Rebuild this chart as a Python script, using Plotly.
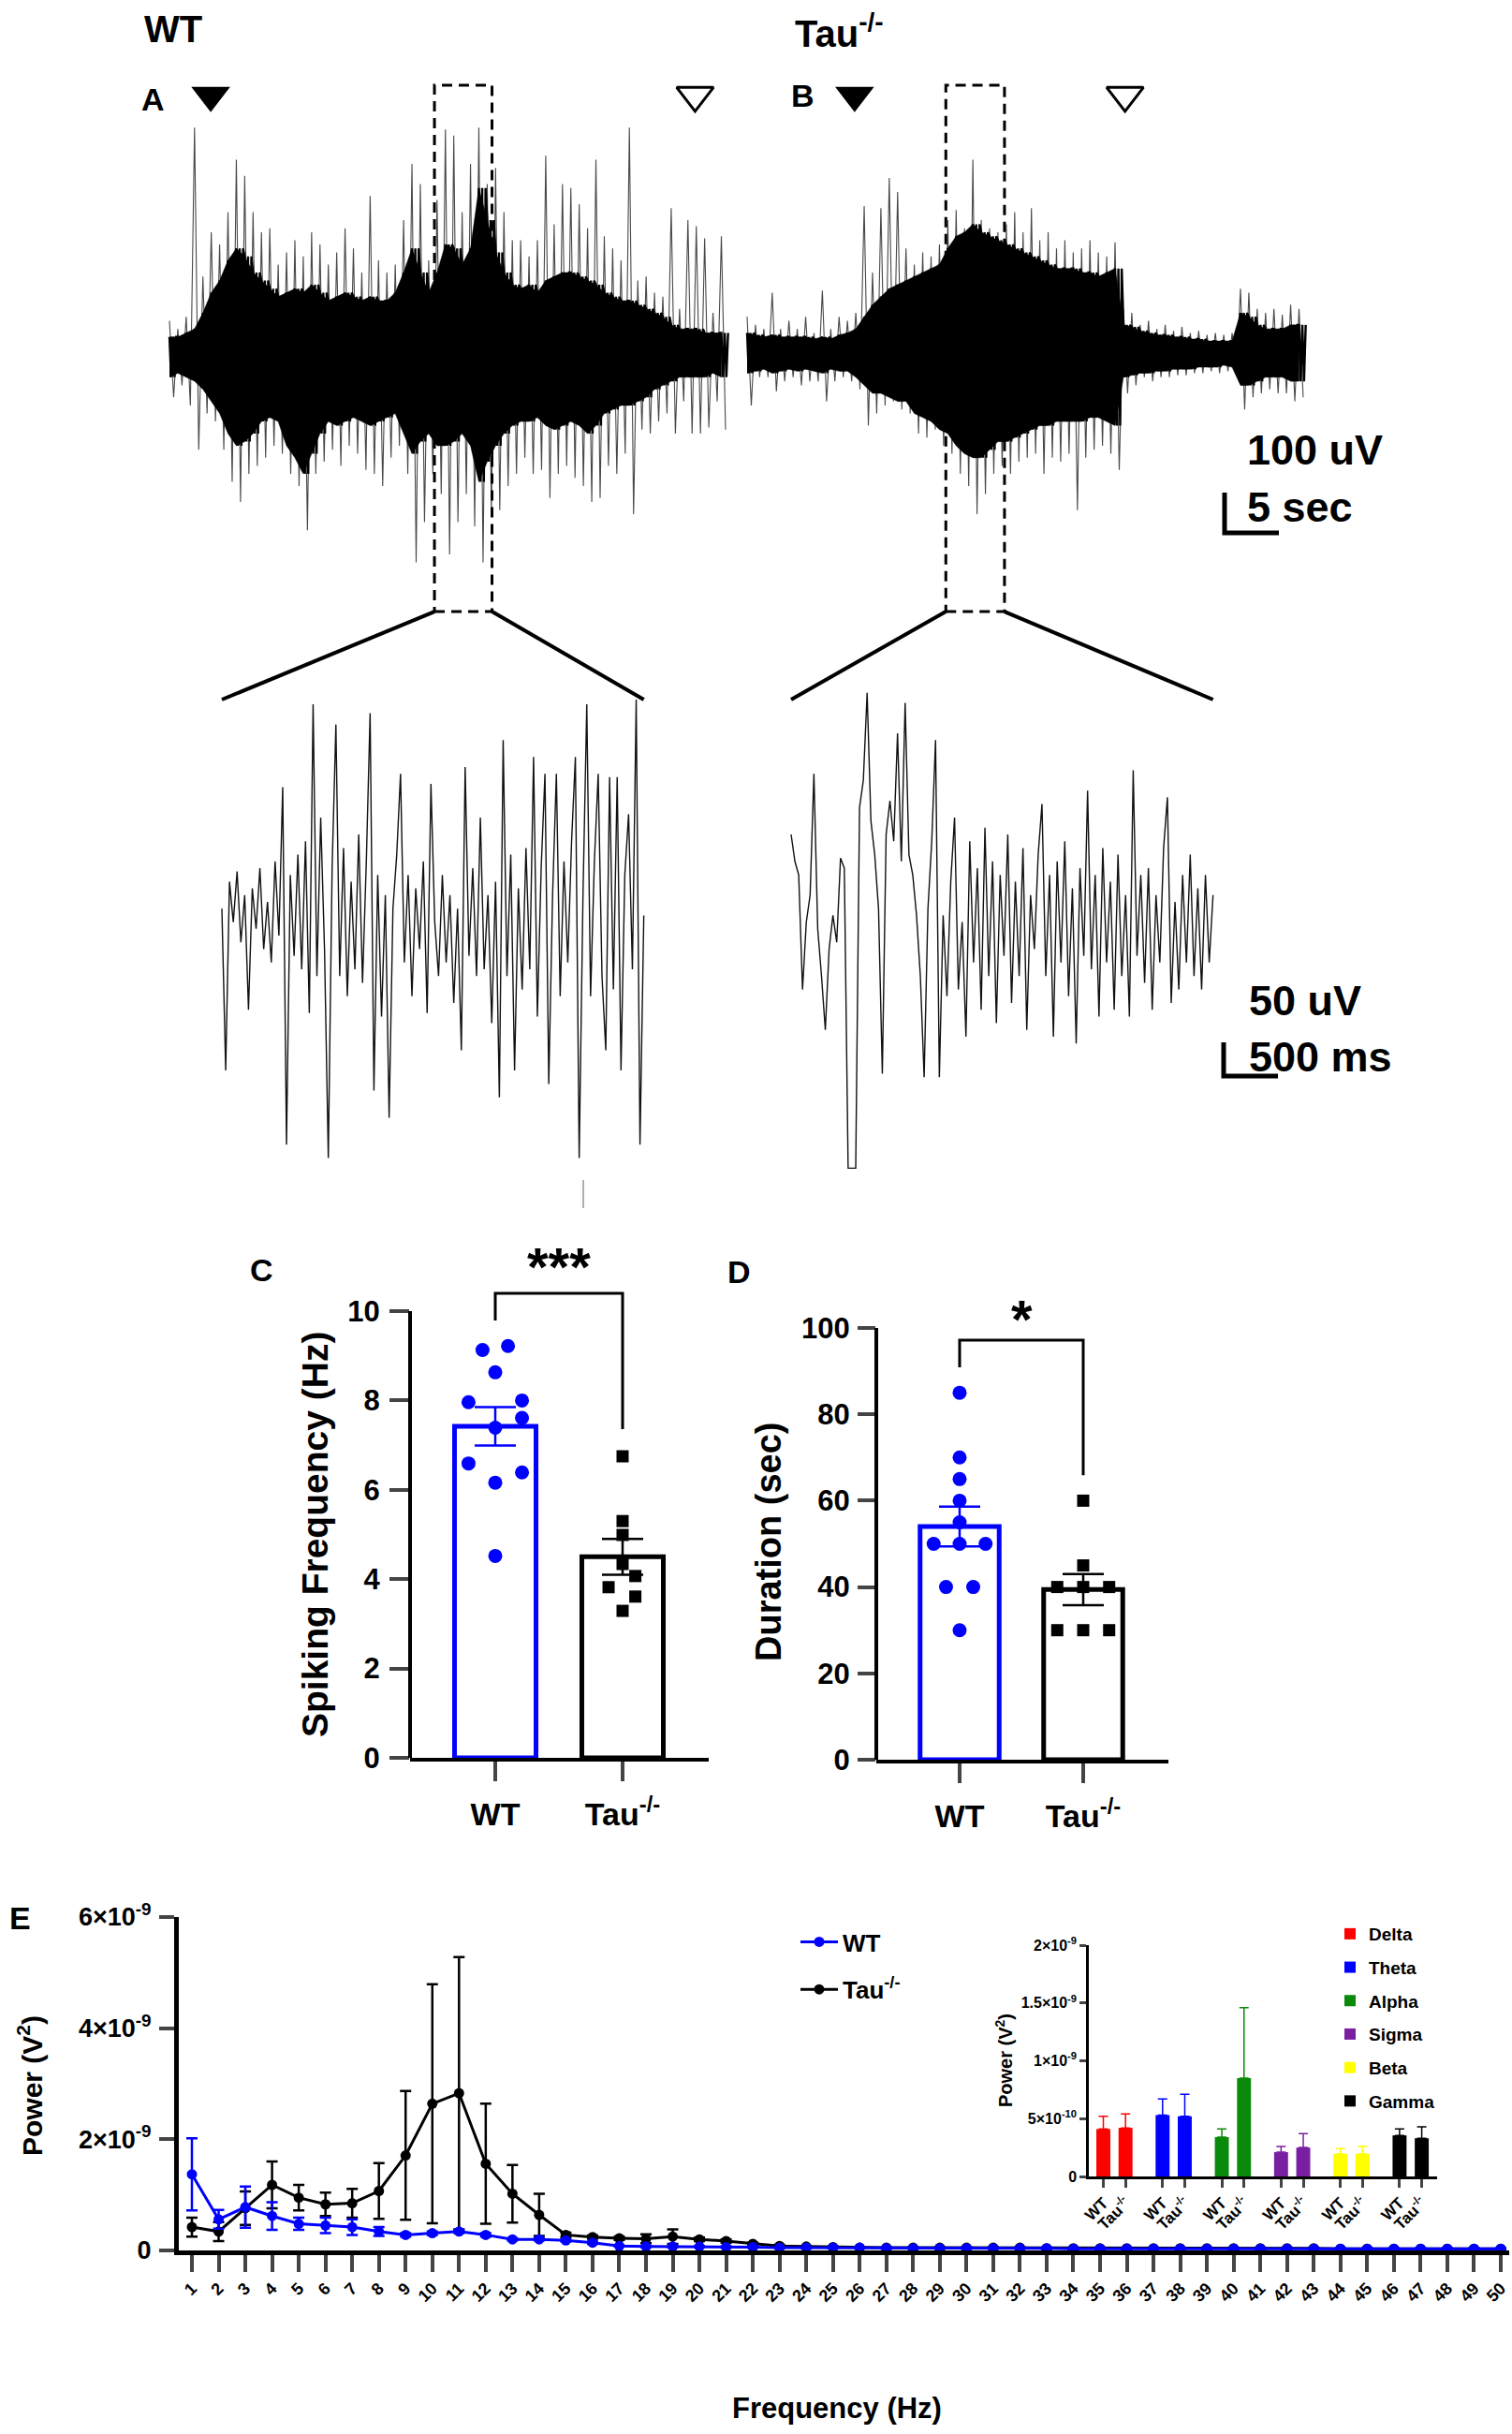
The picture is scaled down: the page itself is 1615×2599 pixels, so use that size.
import plotly.graph_objects as go

W, H = 1615, 2599
FONT = "Liberation Sans, Arial, sans-serif"
BLUE = "#0000ff"

# ---------------- data ----------------
# A / B: whole seizures (uV), one reading every 0.77 s
trace_step = 0.77
wt_spike_hi = [80, 60, 90, 560, 190, 300, 270, 350, 480, 440, 350, 300, 310, 220, 250, 280, 240,
               300, 270, 220, 250, 310, 260, 200, 390, 230, 200, 220, 330, 470, 420, 230, 380, 555,
               540, 350, 470, 560, 420, 460, 350, 280, 280, 240, 280, 490, 320, 420, 410, 370, 310,
               480, 290, 260, 230, 560, 180, 190, 150, 140, 360, 110, 330, 315, 285, 100, 290]
wt_spike_lo = [-110, -80, -130, -240, -150, -170, -240, -320, -370, -300, -280, -260, -230, -250,
               -300, -330, -440, -300, -270, -240, -280, -230, -250, -290, -300, -330, -260, -230,
               -300, -520, -420, -300, -350, -500, -420, -350, -430, -520, -400, -390, -330, -300,
               -260, -300, -290, -360, -300, -280, -310, -330, -370, -360, -280, -300, -250, -400,
               -190, -200, -170, -150, -200, -120, -200, -200, -185, -120, -190]
wt_core_hi = [40, 40, 50, 60, 100, 150, 180, 230, 260, 240, 200, 180, 160, 140, 150, 160, 150, 170,
              150, 130, 140, 150, 140, 130, 140, 130, 130, 150, 200, 260, 200, 150, 200, 270, 260,
              220, 260, 410, 330, 250, 200, 170, 160, 170, 150, 180, 190, 200, 200, 190, 180, 170,
              150, 140, 130, 130, 120, 110, 100, 90, 70, 60, 60, 60, 50, 50, 50]
wt_core_lo = [-60, -50, -60, -70, -90, -120, -150, -200, -230, -220, -200, -170, -160, -170, -230,
              -260, -300, -250, -200, -170, -180, -170, -160, -170, -180, -170, -160, -150, -200,
              -250, -220, -200, -230, -230, -220, -200, -230, -320, -270, -230, -200, -180, -170,
              -170, -160, -180, -190, -180, -170, -180, -200, -180, -150, -140, -130, -130, -120,
              -110, -90, -80, -70, -60, -60, -60, -60, -50, -60]

tau_spike_hi = [90, 70, 60, 150, 60, 80, 60, 90, 50, 155, 60, 90, 80, 100, 365, 200, 360, 435, 400,
                260, 220, 250, 240, 270, 330, 355, 310, 480, 330, 310, 300, 320, 350, 300, 360, 280,
                300, 260, 280, 250, 260, 280, 250, 240, 275, 110, 100, 70, 80, 60, 70, 55, 65, 50,
                55, 45, 50, 45, 50, 160, 150, 110, 100, 110, 95, 120, 110]
tau_spike_lo = [-130, -60, -60, -95, -70, -60, -80, -70, -70, -120, -70, -60, -70, -90, -180, -150,
                -130, -120, -140, -150, -200, -210, -190, -230, -250, -300, -330, -400, -350, -300,
                -280, -300, -270, -260, -250, -300, -260, -270, -250, -390, -260, -240, -230, -250,
                -290, -100, -80, -60, -70, -60, -60, -55, -55, -50, -50, -45, -50, -45, -50, -140,
                -110, -100, -90, -100, -100, -120, -110]
tau_core_hi = [50, 45, 40, 45, 40, 40, 40, 40, 35, 40, 35, 45, 50, 60, 90, 120, 140, 160, 170, 180,
               190, 200, 210, 220, 260, 290, 300, 320, 300, 290, 280, 270, 260, 250, 240, 230, 220,
               210, 210, 210, 200, 200, 190, 200, 210, 70, 65, 55, 50, 45, 45, 40, 40, 35, 35, 30,
               30, 30, 30, 100, 90, 70, 60, 60, 60, 70, 70]
tau_core_lo = [-50, -45, -40, -50, -45, -40, -45, -40, -45, -50, -40, -45, -45, -60, -80, -100, -100,
               -110, -120, -120, -150, -160, -170, -190, -200, -230, -250, -260, -260, -240, -220,
               -220, -210, -200, -190, -180, -180, -170, -170, -170, -170, -160, -160, -170, -180,
               -60, -55, -50, -50, -45, -45, -40, -40, -40, -35, -35, -35, -30, -35, -80, -80, -70,
               -60, -60, -60, -70, -70]

seizure_onset = [3.8, 9.9]      # s  (WT, Tau-/-)
seizure_offset = [48.4, 34.8]
zoom_window_wt = [24.4, 29.7]
zoom_window_tau = [18.3, 23.7]

# expanded segments (uV), one reading every 35 ms
zoom_step = 0.035
wt_zoom = [40, -200, 80, 20, 95, -10, 60, -110, 70, 10,
           100, -20, 50, -40, 110, 0, 220, -310, 90, -30,
           120, -50, 140, -115, 343, -60, 175, -20, -330, 100,
           313, -60, 130, -90, 80, -50, 150, -70, 110, 330,
           -230, 90, -120, 60, -270, 40, 120, 240, -40, 90,
           -90, 70, -20, 110, -115, 225, 20, -60, 90, -40,
           60, -100, 40, -170, 250, -30, 100, -60, 175, -50,
           60, -130, 80, -240, 290, -60, 120, -200, 70, -80,
           130, -50, 265, -120, 100, 240, -220, 60, 240, -90,
           110, -40, 140, 265, -330, 60, 343, -90, 110, 240,
           -60, -170, 235, -80, 235, -200, 90, 180, -50, 350,
           -310, 30]
tau_zoom = [150, 110, 90, -80, 20, 60, 240, 10, -60, -140,
            -20, 30, -10, 115, 100, -345, -345, -345, 190, 230,
            360, 170, 120, 40, -205, 150, 200, 140, 300, 110,
            345, 120, 90, 30, -60, -210, 40, 140, 290, -210,
            30, -90, 80, 175, -80, 20, -150, 140, -40, 100,
            -110, 160, -60, 110, -130, 90, -30, 150, -100, 80,
            -60, 130, -140, 60, -20, 120, 195, -60, 90, -150,
            110, -40, 140, -90, 70, -160, 100, -30, 215, -50,
            90, -120, 130, -40, 80, -110, 120, -60, 60, -120,
            245, -30, 90, -70, 100, -110, 60, -40, 130, 205,
            -100, 50, -80, 90, -40, 120, -60, 70, -80, 90,
            -40, 60]

# C / D
groups = ["WT", "Tau<sup>-/-</sup>"]
freq_wt = [9.13, 9.22, 8.63, 7.96, 8.00, 7.39, 7.61, 6.59, 6.39, 6.16, 4.52]
freq_tau = [6.75, 5.30, 4.99, 4.34, 4.07, 3.82, 3.61, 3.29]
freq_mean = [7.42, 4.50]
freq_sem = [0.43, 0.40]
dur_wt = [85, 70, 65, 60, 55, 50, 50, 50, 40, 40, 30]
dur_tau = [60, 45, 40, 40, 40, 30, 30, 30]
dur_mean = [54.0, 39.4]
dur_sem = [4.6, 3.6]
# horizontal scatter of the dots inside each bar
freq_wt_jit = [-0.10, 0.10, 0, -0.21, 0.21, 0, 0.21, -0.21, 0.21, 0, 0]
freq_tau_jit = [0, 0, 0, 0, 0.10, -0.11, 0.10, 0]
dur_wt_jit = [0, 0, 0, 0, 0, -0.21, 0, 0.21, -0.11, 0.11, 0]
dur_tau_jit = [0, 0, -0.21, 0, 0.21, -0.21, 0, 0.21]

# E: power spectrum, x1e-9 V^2
freq_hz = list(range(1, 51))
wt_power = [1.37, 0.56, 0.78, 0.62, 0.48, 0.45, 0.42, 0.34, 0.28, 0.31,
            0.34, 0.28, 0.20, 0.20, 0.18, 0.14, 0.08, 0.07, 0.07, 0.07,
            0.06, 0.06, 0.05, 0.05, 0.05, 0.05, 0.04, 0.04, 0.04, 0.04,
            0.04, 0.04, 0.04, 0.03, 0.03, 0.03, 0.03, 0.03, 0.03, 0.03,
            0.03, 0.03, 0.03, 0.03, 0.03, 0.03, 0.03, 0.03, 0.03, 0.03]
wt_sem = [0.65, 0.17, 0.37, 0.25, 0.11, 0.14, 0.14, 0.08, 0.03, 0.03,
          0.03, 0.03, 0.02, 0.02, 0.02, 0.02, 0.01, 0.01, 0.01, 0.01,
          0.01, 0.01, 0.01, 0.01, 0.01, 0.01, 0.01, 0.01, 0.01, 0.01,
          0.01, 0.01, 0.01, 0.01, 0.01, 0.01, 0.01, 0.01, 0.01, 0.01,
          0.01, 0.01, 0.01, 0.01, 0.01, 0.01, 0.01, 0.01, 0.01, 0.01]
tau_power = [0.42, 0.34, 0.76, 1.18, 0.95, 0.83, 0.85, 1.07, 1.71, 2.64,
             2.83, 1.56, 1.02, 0.64, 0.28, 0.24, 0.22, 0.21, 0.25, 0.20,
             0.17, 0.12, 0.08, 0.07, 0.06, 0.05, 0.05, 0.05, 0.05, 0.05,
             0.05, 0.05, 0.04, 0.04, 0.04, 0.04, 0.04, 0.04, 0.04, 0.04,
             0.04, 0.04, 0.04, 0.03, 0.03, 0.03, 0.03, 0.03, 0.03, 0.03]
tau_sem = [0.17, 0.17, 0.30, 0.42, 0.23, 0.21, 0.26, 0.50, 1.16, 2.15,
           2.45, 1.08, 0.52, 0.38, 0.04, 0.03, 0.03, 0.08, 0.13, 0.03,
           0.03, 0.02, 0.02, 0.01, 0.01, 0.01, 0.01, 0.01, 0.01, 0.01,
           0.01, 0.01, 0.01, 0.01, 0.01, 0.01, 0.01, 0.01, 0.01, 0.01,
           0.01, 0.01, 0.01, 0.01, 0.01, 0.01, 0.01, 0.01, 0.01, 0.01]

bands = ["Delta", "Theta", "Alpha", "Sigma", "Beta", "Gamma"]
band_wt = [0.41, 0.53, 0.34, 0.21, 0.195, 0.355]
band_wt_sem = [0.11, 0.14, 0.07, 0.05, 0.045, 0.055]
band_tau = [0.42, 0.52, 0.85, 0.25, 0.195, 0.33]
band_tau_sem = [0.12, 0.19, 0.61, 0.12, 0.065, 0.10]
band_colors = ["#ff0000", "#0000ff", "#0a8a0a", "#7a1fa2", "#ffff00", "#000000"]

# ---------------- page geometry (pixels) ----------------
TOP_T0, TOP_PX_S, TOP_MID, TOP_PX_UV = 181, 11.6, 377, 0.43   # A/B row
ZM_T0, ZM_PX_S, ZM_MID, ZM_PX_UV = 237, 116, 999, 0.72        # expanded row
TAU_TOP_SHIFT = (798 - TOP_T0) / TOP_PX_S
TAU_ZM_SHIFT = (845 - ZM_T0) / ZM_PX_S


def pxx(p):
    return p / W


def pxy(p):
    return 1 - p / H


def top_px(t, v):
    return TOP_T0 + t * TOP_PX_S, TOP_MID - v * TOP_PX_UV


def zm_px(t, v):
    return ZM_T0 + t * ZM_PX_S, ZM_MID - v * ZM_PX_UV


fig = go.Figure()

# ---------------- A / B ----------------
for shift, hi, lo, chi, clo in [(0, wt_spike_hi, wt_spike_lo, wt_core_hi, wt_core_lo),
                                (TAU_TOP_SHIFT, tau_spike_hi, tau_spike_lo, tau_core_hi, tau_core_lo)]:
    t = [shift + i * trace_step for i in range(len(hi))]
    sx, sy, cx, cy = [], [], [], []
    for i in range(len(hi)):
        sx += [t[i], t[i] + trace_step / 2]
        sy += [hi[i], lo[i]]
        cx += [t[i] + k * trace_step / 5 for k in range(5)]
        cy += [chi[i], clo[i], chi[i], clo[i], chi[i]]
    # outlying spikes
    fig.add_trace(go.Scatter(x=sx, y=sy, mode="lines", line=dict(color="#484848", width=1.1),
                             xaxis="x", yaxis="y", hoverinfo="skip", showlegend=False))
    # dense part of the discharge: solid band plus ragged strokes on its edge
    fig.add_trace(go.Scatter(x=t + t[::-1], y=chi + clo[::-1], fill="toself", fillcolor="black",
                             mode="lines", line=dict(color="black", width=0.5),
                             xaxis="x", yaxis="y", hoverinfo="skip", showlegend=False))
    fig.add_trace(go.Scatter(x=cx, y=cy, mode="lines", line=dict(color="black", width=2.4),
                             xaxis="x", yaxis="y", hoverinfo="skip", showlegend=False))

onset_x = [seizure_onset[0], seizure_onset[1] + TAU_TOP_SHIFT]
offset_x = [seizure_offset[0], seizure_offset[1] + TAU_TOP_SHIFT]
fig.add_trace(go.Scatter(x=onset_x, y=[640, 640], mode="markers", cliponaxis=False,
                         marker=dict(symbol="triangle-down", size=36, color="black"),
                         xaxis="x", yaxis="y", hoverinfo="skip", showlegend=False))
fig.add_trace(go.Scatter(x=offset_x, y=[640, 640], mode="markers", cliponaxis=False,
                         marker=dict(symbol="triangle-down-open", size=34, color="black",
                                     line=dict(width=3, color="black")),
                         xaxis="x", yaxis="y", hoverinfo="skip", showlegend=False))

# expanded segments
for shift, vals in [(0, wt_zoom), (TAU_ZM_SHIFT, tau_zoom)]:
    fig.add_trace(go.Scatter(x=[shift + i * zoom_step for i in range(len(vals))], y=vals,
                             mode="lines", line=dict(color="#111111", width=1.4),
                             xaxis="x2", yaxis="y2", hoverinfo="skip", showlegend=False))

shapes = []
BOX_TOP, BOX_BOT = 665, -642
for shift, win, nvals in [(0, zoom_window_wt, len(wt_zoom)),
                          (TAU_TOP_SHIFT, zoom_window_tau, len(tau_zoom))]:
    shapes.append(dict(type="rect", xref="x", yref="y", x0=win[0] + shift, x1=win[1] + shift,
                       y0=BOX_BOT, y1=BOX_TOP, line=dict(color="black", width=3, dash="11px,7px")))
    zshift = 0 if shift == 0 else TAU_ZM_SHIFT
    for a, b in [(win[0], zshift), (win[1], zshift + (nvals - 1) * zoom_step)]:
        p0 = top_px(a + shift, BOX_BOT)
        p1 = zm_px(b, 350)
        shapes.append(dict(type="line", xref="paper", yref="paper",
                           x0=pxx(p0[0]), y0=pxy(p0[1]), x1=pxx(p1[0]), y1=pxy(p1[1]),
                           line=dict(color="black", width=4)))

# scale bars
sb_t, sb_v = (1308 - TOP_T0) / TOP_PX_S, (TOP_MID - 569) / TOP_PX_UV
shapes.append(dict(type="path", xref="x", yref="y", line=dict(color="black", width=5),
                   path=f"M {sb_t},{sb_v + 100} L {sb_t},{sb_v} L {sb_t + 5},{sb_v}"))
sz_t, sz_v = (1307 - ZM_T0) / ZM_PX_S, (ZM_MID - 1149) / ZM_PX_UV
shapes.append(dict(type="path", xref="x2", yref="y2", line=dict(color="black", width=5),
                   path=f"M {sz_t},{sz_v + 50} L {sz_t},{sz_v} L {sz_t + 0.5},{sz_v}"))
shapes.append(dict(type="line", xref="paper", yref="paper", x0=pxx(623), x1=pxx(623),
                   y0=pxy(1260), y1=pxy(1290), line=dict(color="#b0b0b0", width=2)))

# ---------------- C / D ----------------
for ax, vals_wt, vals_tau, jit_wt, jit_tau, mean, sem in [
        ("3", freq_wt, freq_tau, freq_wt_jit, freq_tau_jit, freq_mean, freq_sem),
        ("4", dur_wt, dur_tau, dur_wt_jit, dur_tau_jit, dur_mean, dur_sem)]:
    for i, col in enumerate([BLUE, "black"]):
        fig.add_trace(go.Bar(x=[i], y=[mean[i]], width=0.64, marker=dict(color="white", line=dict(color=col, width=5)),
                             error_y=dict(type="data", array=[sem[i]], color=col, thickness=2.5, width=22),
                             xaxis="x" + ax, yaxis="y" + ax, showlegend=False, hoverinfo="skip"))
    fig.add_trace(go.Scatter(x=jit_wt, y=vals_wt, mode="markers", cliponaxis=False,
                             marker=dict(symbol="circle", size=15, color=BLUE),
                             xaxis="x" + ax, yaxis="y" + ax, showlegend=False))
    fig.add_trace(go.Scatter(x=[1 + j for j in jit_tau], y=vals_tau, mode="markers", cliponaxis=False,
                             marker=dict(symbol="square", size=13, color="black"),
                             xaxis="x" + ax, yaxis="y" + ax, showlegend=False))

shapes += [
    dict(type="line", xref="x3 domain", yref="y3", x0=0, x1=0, y0=0, y1=10, line=dict(color="black", width=4)),
    dict(type="line", xref="x4 domain", yref="y4", x0=0, x1=0, y0=0, y1=100, line=dict(color="black", width=4)),
    dict(type="path", xref="x3", yref="y3", path="M 0,9.79 L 0,10.40 L 1,10.40 L 1,7.36",
         line=dict(color="black", width=3)),
    dict(type="path", xref="x4", yref="y4", path="M 0,90.9 L 0,97.2 L 1,97.2 L 1,65.9",
         line=dict(color="black", width=3)),
]

# ---------------- E ----------------
fig.add_trace(go.Scatter(x=freq_hz, y=[v * 1e-9 for v in tau_power], name="Tau<sup>-/-</sup>",
                         legendgroup="tau", legendrank=2, mode="lines+markers", cliponaxis=False,
                         line=dict(color="black", width=3), marker=dict(size=11, color="black"),
                         error_y=dict(type="data", array=[v * 1e-9 for v in tau_sem], color="black",
                                      thickness=2.5, width=6),
                         xaxis="x5", yaxis="y5"))
fig.add_trace(go.Scatter(x=freq_hz, y=[v * 1e-9 for v in wt_power], name="WT", legendgroup="wt",
                         legendrank=1, mode="lines+markers", cliponaxis=False,
                         line=dict(color=BLUE, width=3), marker=dict(size=11, color=BLUE),
                         error_y=dict(type="data", array=[v * 1e-9 for v in wt_sem], color=BLUE,
                                      thickness=2.5, width=6),
                         xaxis="x5", yaxis="y5"))

inset_x, inset_text = [], []
for g, band in enumerate(bands):
    xs = [g * 2.67, g * 2.67 + 1]
    inset_x += xs
    inset_text += ["WT", "Tau<sup>-/-</sup>"]
    fig.add_trace(go.Bar(x=xs, y=[band_wt[g] * 1e-9, band_tau[g] * 1e-9], width=0.63,
                         marker=dict(color=band_colors[g], line=dict(width=0)), name=band,
                         legend="legend2", legendgroup=band,
                         error_y=dict(type="data", symmetric=False,
                                      array=[band_wt_sem[g] * 1e-9, band_tau_sem[g] * 1e-9],
                                      arrayminus=[0, 0], color=band_colors[g], thickness=1.5, width=5),
                         xaxis="x6", yaxis="y6"))

# ---------------- axes ----------------
hidden = dict(visible=False, fixedrange=True)
tick_font = dict(family=FONT, size=31, color="black", weight="bold")
fig.update_layout(
    xaxis=dict(hidden, domain=[0, 1], anchor="y",
               range=[(0 - TOP_T0) / TOP_PX_S, (W - TOP_T0) / TOP_PX_S]),
    yaxis=dict(hidden, domain=[pxy(720), pxy(40)], anchor="x",
               range=[(TOP_MID - 720) / TOP_PX_UV, (TOP_MID - 40) / TOP_PX_UV]),
    xaxis2=dict(hidden, domain=[0, 1], anchor="y2",
                range=[(0 - ZM_T0) / ZM_PX_S, (W - ZM_T0) / ZM_PX_S]),
    yaxis2=dict(hidden, domain=[pxy(1300), pxy(720)], anchor="x2",
                range=[(ZM_MID - 1300) / ZM_PX_UV, (ZM_MID - 720) / ZM_PX_UV]),
    xaxis3=dict(domain=[pxx(438), pxx(757)], anchor="y3", range=[(438 - 529) / 136, (757 - 529) / 136],
                showline=True, linewidth=4, linecolor="black", ticks="outside", ticklen=21, tickwidth=4,
                tickvals=[0, 1], ticktext=groups, tickfont=dict(tick_font, size=34), showgrid=False,
                zeroline=False, ticklabelstandoff=6),
    yaxis3=dict(domain=[pxy(1877), pxy(1330)], anchor="x3", range=[0, (1877 - 1330) / 47.7],
                showline=False, ticks="outside", ticklen=21, tickwidth=4, tickvals=[0, 2, 4, 6, 8, 10],
                tickfont=tick_font, showgrid=False, zeroline=False, ticklabelstandoff=4),
    xaxis4=dict(domain=[pxx(936), pxx(1248)], anchor="y4", range=[(936 - 1025) / 132, (1248 - 1025) / 132],
                showline=True, linewidth=4, linecolor="black", ticks="outside", ticklen=21, tickwidth=4,
                tickvals=[0, 1], ticktext=groups, tickfont=dict(tick_font, size=34), showgrid=False,
                zeroline=False, ticklabelstandoff=6),
    yaxis4=dict(domain=[pxy(1879), pxy(1330)], anchor="x4", range=[0, (1879 - 1330) / 4.61],
                showline=False, ticks="outside", ticklen=19, tickwidth=4, tickvals=[0, 20, 40, 60, 80, 100],
                tickfont=tick_font, showgrid=False, zeroline=False, ticklabelstandoff=2),
    xaxis5=dict(domain=[pxx(191), pxx(1612)], anchor="y5",
                range=[1 + (191 - 205) / 28.53, 1 + (1612 - 205) / 28.53],
                showline=True, linewidth=5, linecolor="black", ticks="outside", ticklen=18, tickwidth=4,
                tickvals=freq_hz, ticktext=[str(f) for f in freq_hz], tickangle=-45,
                tickfont=dict(tick_font, size=18), showgrid=False, zeroline=False),
    yaxis5=dict(domain=[pxy(2403), pxy(2047)], anchor="x5", range=[0, 6e-9],
                showline=True, linewidth=5, linecolor="black", ticks="outside", ticklen=16, tickwidth=4,
                tickvals=[0, 2e-9, 4e-9, 6e-9],
                ticktext=["0", "2×10<sup>-9</sup>", "4×10<sup>-9</sup>", "6×10<sup>-9</sup>"],
                tickfont=dict(tick_font, size=27), showgrid=False, zeroline=False, ticklabelstandoff=3),
    xaxis6=dict(domain=[pxx(1163), pxx(1535)], anchor="y6",
                range=[(1163 - 1178.5) / 23.7, (1535 - 1178.5) / 23.7],
                showline=True, linewidth=2.5, linecolor="black", ticks="outside", ticklen=9, tickwidth=2.5,
                tickvals=inset_x, ticktext=inset_text, tickangle=-45,
                tickfont=dict(tick_font, size=17), showgrid=False, zeroline=False),
    yaxis6=dict(domain=[pxy(2324), pxy(2077)], anchor="x6", range=[0, 2e-9],
                showline=True, linewidth=2.5, linecolor="black", ticks="outside", ticklen=7, tickwidth=2.5,
                tickvals=[0, 0.5e-9, 1e-9, 1.5e-9, 2e-9],
                ticktext=["0", "5×10<sup>-10</sup>", "1×10<sup>-9</sup>", "1.5×10<sup>-9</sup>", "2×10<sup>-9</sup>"],
                tickfont=dict(tick_font, size=16), showgrid=False, zeroline=False),
)
# positions are fixed in pixels, so keep plotly from growing the margins
fig.update_xaxes(automargin=False)
fig.update_yaxes(automargin=False)


# ---------------- text ----------------
def note(text, x, y, size, xanchor="center", angle=0, ref=None):
    d = dict(text=text, showarrow=False, textangle=angle, xanchor=xanchor, yanchor="middle",
             font=dict(family=FONT, size=size, color="black", weight="bold"))
    if ref is None:
        d.update(xref="paper", yref="paper", x=pxx(x), y=pxy(y))
    else:
        d.update(xref="x" + ref, yref="y" + ref, x=x, y=y)
    return d


annotations = [
    note("WT", 152, 31, 40, "left"),
    note("Tau<sup>-/-</sup>", 847, 33, 40, "left"),
    note("A", 163, 106, 34),
    note("B", 857, 102, 34),
    note("100 uV", 1330, 481, 45, "left"),
    note("5 sec", 1330, 541, 45, "left"),
    note("50 uV", 1332, 1068, 45, "left"),
    note("500 ms", 1332, 1128, 45, "left"),
    note("C", 279, 1356, 34),
    note("D", 789, 1358, 34),
    note("E", 21, 2048, 34),
    note("Spiking Frequency (Hz)", 336, 1639, 39, angle=-90),
    note("Duration (sec)", 821, 1647, 38, angle=-90),
    note("***", 0.5, 11.0, 58, ref="3"),
    note("*", 0.5, 102.0, 58, ref="4"),
    note("Power (V<sup>2</sup>)", 32, 2227, 30, angle=-90),
    note("Frequency (Hz)", 894, 2571, 31),
    note("Power (V<sup>2</sup>)", 1072, 2200, 20, angle=-90),
]

fig.update_layout(
    width=W, height=H, margin=dict(l=0, r=0, t=0, b=0, autoexpand=False),
    paper_bgcolor="white", plot_bgcolor="rgba(0,0,0,0)",
    font=dict(family=FONT, color="black"),
    shapes=shapes, annotations=annotations, barmode="overlay",
    legend=dict(x=pxx(850), y=pxy(2050), xanchor="left", yanchor="top", bgcolor="rgba(0,0,0,0)",
                font=dict(family=FONT, size=26, weight="bold"), tracegroupgap=14, itemwidth=40),
    legend2=dict(x=pxx(1422), y=pxy(2046), xanchor="left", yanchor="top", bgcolor="rgba(0,0,0,0)",
                 font=dict(family=FONT, size=19, weight="bold"), tracegroupgap=8),
)

fig.write_html("out.html", config={"displayModeBar": False},
               post_script="document.body.style.margin='0';document.body.style.overflow='hidden';")
